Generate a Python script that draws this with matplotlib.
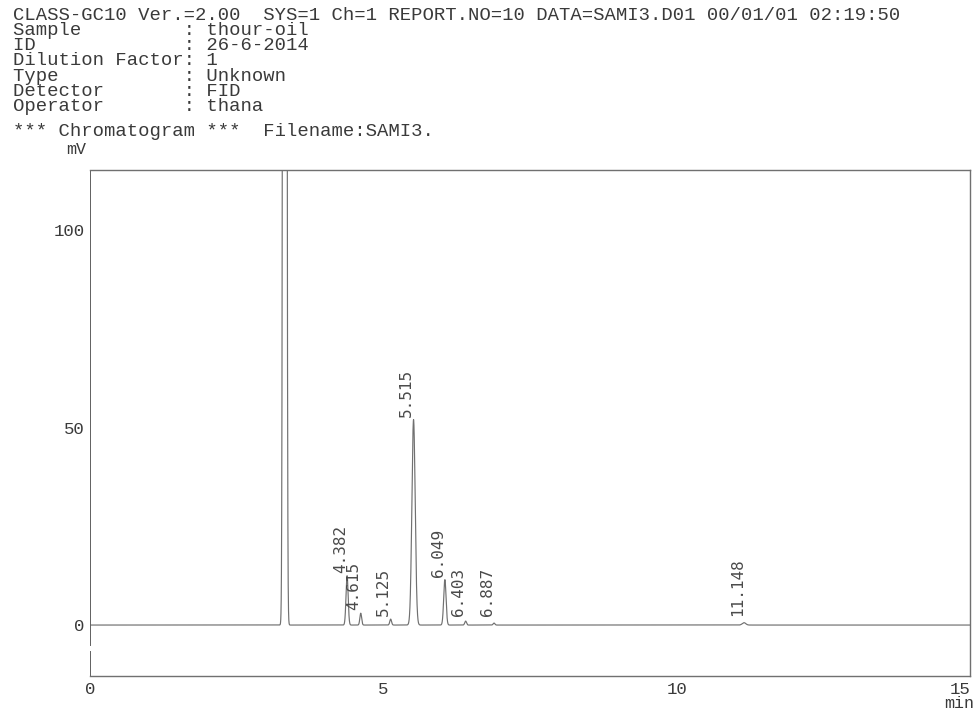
import numpy as np
import matplotlib
matplotlib.use("Agg")
import matplotlib.pyplot as plt

# report header
header = [
    "CLASS-GC10 Ver.=2.00  SYS=1 Ch=1 REPORT.NO=10 DATA=SAMI3.D01 00/01/01 02:19:50",
    "Sample         : thour-oil",
    "ID             : 26-6-2014",
    "Dilution Factor: 1",
    "Type           : Unknown",
    "Detector       : FID",
    "Operator       : thana",
]
chrom_title = "*** Chromatogram ***  Filename:SAMI3."

# peak table (retention time in min, height in mV, width sigma in min)
peak_rt = [4.382, 4.615, 5.125, 5.515, 6.049, 6.403, 6.887, 11.148]
peak_height = [12.5, 3.0, 1.5, 52.0, 11.5, 1.0, 0.5, 0.6]
peak_sigma = [0.018, 0.015, 0.015, 0.028, 0.020, 0.015, 0.015, 0.03]

# solvent peak, off scale, not labelled
solvent_rt = 3.32
solvent_height = 2000.0
solvent_sigma = 0.018

x_ticks = [0, 5, 10, 15]
y_ticks = [0, 50, 100]

W, H = 975, 709
fig = plt.figure(figsize=(W / 100, H / 100), dpi=100)
mono = "Liberation Mono"
txt_col = "#3a3a3a"

for i, line in enumerate(header):
    fig.text(13 / W, 1 - (15 + i * 15.3) / H, line, family=mono, fontsize=13.6,
             color=txt_col, va="center", ha="left")
fig.text(13 / W, 1 - 132 / H, chrom_title, family=mono, fontsize=13.6,
         color=txt_col, va="center", ha="left")
fig.text(66 / W, 1 - 150 / H, "mV", family=mono, fontsize=12,
         color=txt_col, va="center", ha="left")
fig.text(974 / W, 1 - 703 / H, "min", family=mono, fontsize=12,
         color=txt_col, va="center", ha="right")

ax = fig.add_axes([90 / W, 1 - 676 / H, 880 / W, 506 / H])

# build the trace from the peak table
t = np.linspace(0, 15, 30001)
signal = np.zeros_like(t)
for rt, h, s in zip(peak_rt + [solvent_rt], peak_height + [solvent_height],
                    peak_sigma + [solvent_sigma]):
    signal += h * np.exp(-0.5 * ((t - rt) / s) ** 2)

ax.plot(t, signal, color="#707070", lw=0.85)

for rt, h in zip(peak_rt, peak_height):
    ax.annotate(f"{rt:.3f}", xy=(rt, max(h, 1.5)), xytext=(0.5, 2),
                textcoords="offset points", rotation=90, ha="right",
                va="bottom", family="DejaVu Sans Mono", fontsize=11.5,
                color="#4a4a4a")

ax.set_xlim(0, 15)
ax.set_ylim(-12.9, 115.2)
ax.set_xticks(x_ticks)
ax.set_yticks(y_ticks)
ax.tick_params(length=0, labelsize=12.5, labelcolor=txt_col, pad=4)
for lab in ax.get_xticklabels() + ax.get_yticklabels():
    lab.set_family(mono)
ax.get_xticklabels()[-1].set_ha("right")

for side in ["top", "right", "bottom"]:
    ax.spines[side].set_color("#707070")
    ax.spines[side].set_linewidth(1.0)
ax.spines["left"].set_visible(False)
# left frame line with the small break below zero
ax.axvline(0, ymin=0.0, ymax=0.048, color="#606060", lw=1.4)
ax.axvline(0, ymin=0.062, ymax=1.0, color="#606060", lw=1.4)

fig.savefig("out.png", dpi=100)
